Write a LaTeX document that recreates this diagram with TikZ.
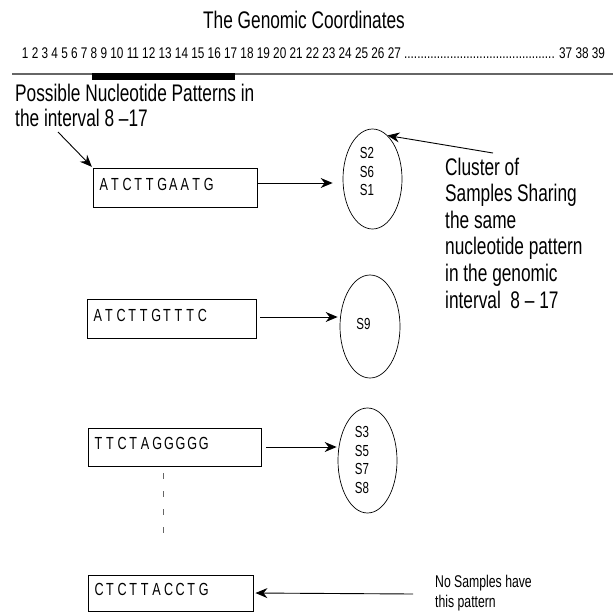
\documentclass[tikz,border=0pt]{standalone}
\usepackage{fontspec}
\setmainfont{Liberation Sans}[FakeStretch=0.72]
\usetikzlibrary{arrows.meta,shapes.geometric}
\newcommand\seqtxt[1]{\seqloop#1\relax}
\def\seqloop#1{\ifx#1\relax\else\makebox[11.6pt][l]{#1}\expandafter\seqloop\fi}
\begin{document}
\begin{tikzpicture}[x=1pt,y=-1pt,
  seqbox/.style={draw, line width=0.9pt, rectangle, inner xsep=6.5pt, inner ysep=0pt,
    align=left, text height=13pt, text depth=8pt, font=\fontsize{17.5}{17.5}\selectfont},
  cluster/.style={draw, ellipse, line width=0.7pt, inner sep=0pt},
  slab/.style={align=left, inner sep=0pt, font=\fontsize{16}{18.5}\selectfont},
  bigtxt/.style={inner sep=0pt, align=left, font=\fontsize{24}{25}\selectfont},
  arr/.style={line width=0.9pt, -{Stealth[length=12pt,width=10pt,inset=4pt]}}
]
\useasboundingbox (0,0) rectangle (613,616);

% title and coordinates
\node[inner sep=0pt, anchor=base, font=\fontsize{24}{24}\selectfont] (title) at (304,28) {The Genomic Coordinates};
\node[inner sep=0pt, anchor=base] (nums) at (313.5,58.5)
  {\resizebox{583pt}{10.8pt}{\fontsize{15}{15}\selectfont 1 2 3 4 5 6 7 8 9 10 11 12 13 14 15 16 17 18 19 20 21 22 23 24 25 26 27 .............................................. 37 38 39}};
\coordinate (axL) at (12,74);
\coordinate (axR) at (613,74);
\draw[line width=2pt, black!60] (axL) -- (axR);
\coordinate (barL) at (92,73);
\coordinate (barR) at (235,80);
\fill (barL) rectangle (barR);

% left explanation (base anchor = last line baseline)
\node[bigtxt, anchor=base west] (poss) at (15,126) {Possible Nucleotide Patterns in\\the interval 8 --17};
\coordinate (possTail) at (58,132);

% pattern boxes
\node[seqbox, text width=151pt, minimum height=39pt] (b1) at (175,187.5) {\seqtxt{ATCTTGAATG}};
\node[seqbox, text width=156pt, minimum height=39pt] (b2) at (171.5,318.5) {\seqtxt{ATCTTGTTTC}};
\node[seqbox, text width=160pt, minimum height=38pt] (b3) at (174.5,447) {\seqtxt{TTCTAGGGGG}};
\node[seqbox, text width=152pt, minimum height=36pt] (b4) at (170.5,593) {\seqtxt{CTCTTACCTG}};

% clusters
\node[cluster, minimum width=59pt, minimum height=100pt] (e1) at (372.5,179) {};
\node[cluster, minimum width=60pt, minimum height=103pt] (e2) at (370,326.5) {};
\node[cluster, minimum width=59pt, minimum height=105pt] (e3) at (367.5,460.5) {};
\node[slab] (s1) at (367,171.5) {S2\\S6\\S1};
\node[slab] (s2) at (363.5,323.5) {S9};
\node[slab] (s3) at (362,460) {S3\\S5\\S7\\S8};

% right explanation
\node[bigtxt, anchor=base west, font=\fontsize{24}{26.6}\selectfont] (clus) at (445,308)
  {Cluster of\\Samples Sharing\\the same\\nucleotide pattern\\in the genomic\\interval\ \ 8 -- 17};
\coordinate (clusTail) at (493,153);
\node[inner sep=0pt, anchor=base west, align=left, font=\fontsize{17}{19.5}\selectfont] (nos) at (435,607)
  {No Samples have\\this pattern};
\coordinate (nosTail) at (413,594);

% connectors
\draw[arr, shorten >=1pt] (possTail) -- (b1.north west);
\draw[arr, shorten >=10pt] ([yshift=4.5pt]b1.east) -- ([yshift=-4pt]e1.west);
\draw[arr, shorten <=4pt, shorten >=2pt] ([yshift=1.5pt]b2.east) -- ([yshift=9.5pt]e2.west);
\draw[arr, shorten <=5pt, shorten >=1pt] (b3.east) -- ([yshift=13.5pt]e3.west);
\draw[arr] (clusTail) -- (e1.71);
\draw[arr, shorten >=2pt] (nosTail) -- (b4.east);

% continuation
\coordinate (dashTop) at (163,473);
\coordinate (dashBot) at (163,540);
\draw[line width=0.9pt, black!60, dash pattern=on 6pt off 12pt] (dashTop) -- (dashBot);
\end{tikzpicture}
\end{document}
